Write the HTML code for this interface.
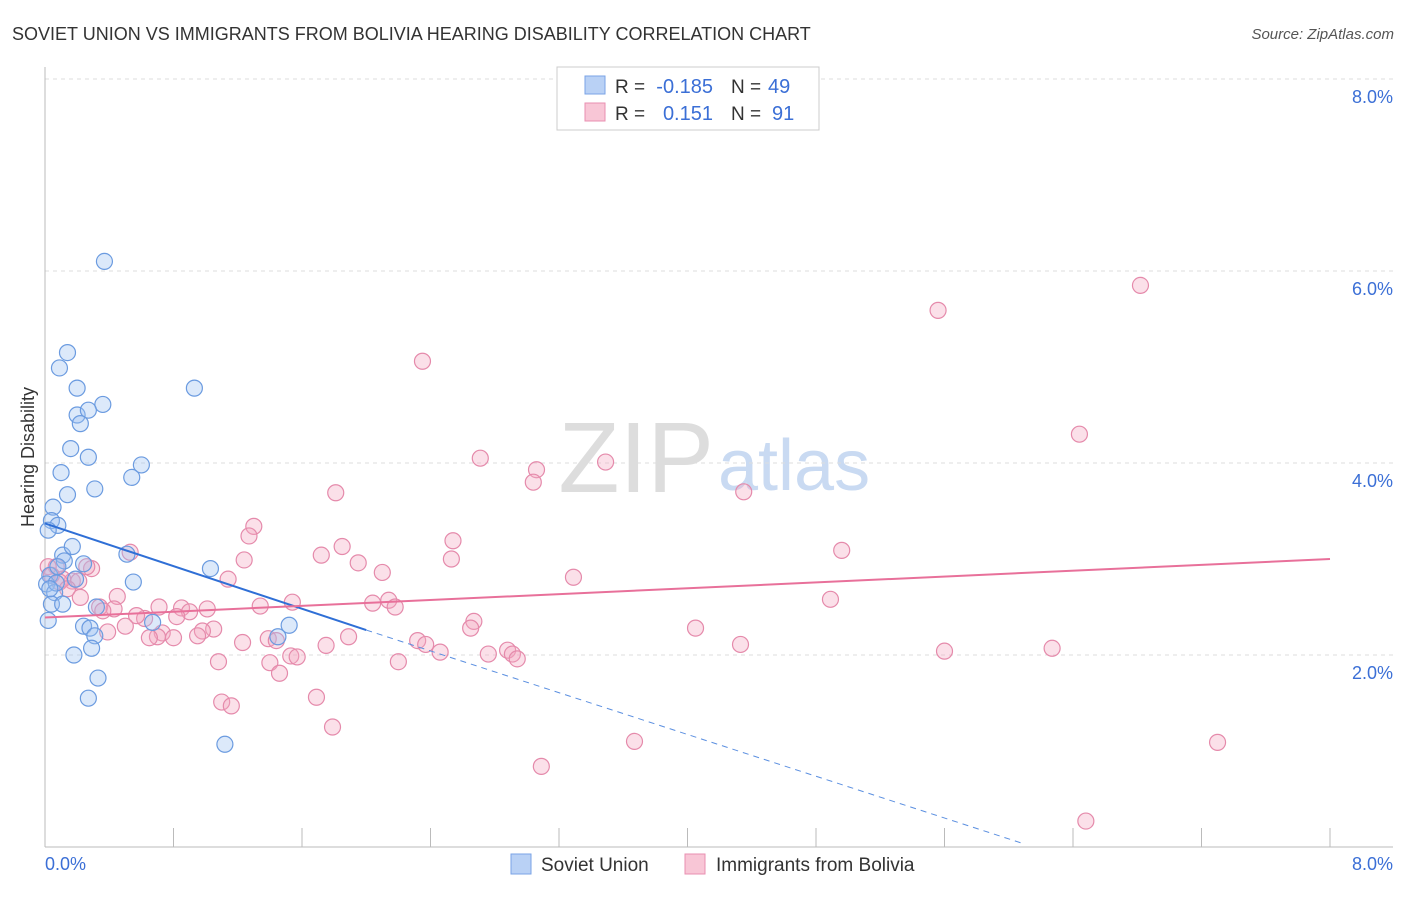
<!DOCTYPE html>
<html><head><meta charset="utf-8"><style>
body{margin:0;background:#fff;font-family:"Liberation Sans",sans-serif;}
svg text{font-family:"Liberation Sans",sans-serif;}
</style></head><body>
<svg id="chart" width="1406" height="892">
<text x="12" y="40" font-size="18" fill="#333">SOVIET UNION VS IMMIGRANTS FROM BOLIVIA HEARING DISABILITY CORRELATION CHART</text>
<text x="1394" y="39" font-size="15" fill="#555" font-style="italic" text-anchor="end">Source: ZipAtlas.com</text>
<text x="714" y="492" font-size="100" fill="#ddd" text-anchor="end" font-family="Liberation Serif">ZIP</text>
<text x="718" y="490" font-size="72" fill="#c9daf2">atlas</text>
<g id="grid"></g><g id="axes"></g><g id="marks"></g>
<text transform="translate(34,457) rotate(-90)" font-size="18" fill="#333" text-anchor="middle">Hearing Disability</text>
<text x="45" y="870" font-size="18" fill="#3b6fd6">0.0%</text>
<text x="1393" y="870" font-size="18" fill="#3b6fd6" text-anchor="end">8.0%</text>
<g>
<rect x="557" y="67" width="262" height="63" fill="#fff" stroke="#ccc"/>
<rect x="585" y="76" width="20" height="18" fill="#b9d1f5" stroke="#7aa3e6"/>
<rect x="585" y="103" width="20" height="18" fill="#f8c6d6" stroke="#e98fb0"/>
<text x="615" y="93" font-size="19" fill="#333">R =</text>
<text x="713" y="93" font-size="20" fill="#3b6fd6" text-anchor="end">-0.185</text>
<text x="731" y="93" font-size="19" fill="#333">N =</text>
<text x="768" y="93" font-size="20" fill="#3b6fd6">49</text>
<text x="615" y="120" font-size="19" fill="#333">R =</text>
<text x="713" y="120" font-size="20" fill="#3b6fd6" text-anchor="end">0.151</text>
<text x="731" y="120" font-size="19" fill="#333">N =</text>
<text x="772" y="120" font-size="20" fill="#3b6fd6">91</text>
</g>
<g>
<rect x="511" y="854" width="20" height="20" fill="#b9d1f5" stroke="#7aa3e6"/>
<text x="541" y="871" font-size="19" fill="#333">Soviet Union</text>
<rect x="685" y="854" width="20" height="20" fill="#f8c6d6" stroke="#e98fb0"/>
<text x="716" y="871" font-size="19" fill="#333">Immigrants from Bolivia</text>
</g>
</svg>
<script>
const yTicks=[2,4,6,8];
const xTickVals=[0,0.8,1.6,2.4,3.2,4.0,4.8,5.6,6.4,7.2,8.0];
const blueX=[0.37,0.14,0.09,0.2,0.93,0.36,0.2,0.27,0.22,0.16,0.27,0.6,0.1,0.54,0.31,0.14,0.05,0.04,0.08,0.02,0.11,0.17,0.51,0.12,0.24,1.03,0.03,0.19,0.55,0.01,0.06,0.04,0.11,0.32,0.67,1.52,0.24,0.28,0.31,1.45,0.29,0.18,0.33,0.27,1.12,0.02,0.07,0.08,0.03];
const blueY=[6.1,5.15,4.99,4.78,4.78,4.61,4.5,4.55,4.41,4.15,4.06,3.98,3.9,3.85,3.73,3.67,3.54,3.4,3.35,3.3,3.04,3.13,3.05,2.98,2.95,2.9,2.83,2.79,2.76,2.74,2.65,2.53,2.53,2.5,2.34,2.31,2.3,2.28,2.2,2.19,2.07,2.0,1.76,1.55,1.07,2.36,2.75,2.92,2.69];
const pinkX=[6.82,5.56,2.35,6.44,2.71,3.49,3.06,3.04,1.81,4.35,1.3,1.27,2.54,1.85,4.96,0.53,1.72,1.24,1.95,2.53,0.29,2.1,3.29,1.14,0.17,0.11,0.07,0.02,0.04,0.09,0.21,0.14,0.22,0.45,2.14,4.89,1.54,2.04,2.18,1.34,0.71,1.01,0.34,0.43,0.36,0.85,0.9,0.82,0.62,0.57,2.67,2.65,0.5,1.05,0.98,0.39,0.73,0.7,0.65,0.8,0.95,1.89,1.39,1.44,1.23,1.75,2.32,2.37,4.33,2.46,2.88,2.91,2.94,2.76,1.53,1.57,5.6,6.27,4.05,1.08,1.4,2.2,1.46,1.69,1.1,1.16,1.79,3.67,7.3,3.09,6.48,0.26];
const pinkY=[5.85,5.59,5.06,4.3,4.05,4.01,3.93,3.8,3.69,3.7,3.34,3.24,3.19,3.13,3.09,3.07,3.04,2.99,2.96,3.0,2.9,2.86,2.81,2.79,2.77,2.79,2.92,2.92,2.83,2.76,2.77,2.69,2.6,2.61,2.57,2.58,2.55,2.54,2.5,2.51,2.5,2.48,2.5,2.48,2.46,2.49,2.45,2.4,2.38,2.41,2.35,2.28,2.3,2.27,2.25,2.24,2.23,2.19,2.18,2.18,2.2,2.19,2.17,2.15,2.13,2.1,2.15,2.11,2.11,2.03,2.05,2.01,1.96,2.01,1.99,1.98,2.04,2.07,2.28,1.93,1.92,1.93,1.81,1.56,1.51,1.47,1.25,1.1,1.09,0.84,0.27,2.92];
const blueTrend=[[0,3.37],[2.0,2.26],[6.1,0.03]];
const pinkTrend=[[0,2.39],[8,3.0]];
</script>
<script>
const NS="http://www.w3.org/2000/svg";
const X0=45,X1=1330,Y0=847,PPU=96;
const sx=v=>X0+v/8*(X1-X0);
const sy=v=>Y0-v*PPU;
function mk(tag,attrs,parent){const e=document.createElementNS(NS,tag);for(const k in attrs)e.setAttribute(k,attrs[k]);parent.appendChild(e);return e;}
const grid=document.getElementById('grid'),axes=document.getElementById('axes'),marks=document.getElementById('marks');
yTicks.forEach(t=>{
 const l=mk('line',{x1:X0,x2:1393,y1:sy(t),y2:sy(t),stroke:'#ddd','stroke-dasharray':'4,4'},grid);
 
 
 const tx=mk('text',{x:1393,y:sy(t)+24,'font-size':18,fill:'#3b6fd6','text-anchor':'end'},grid);
 tx.textContent=t.toFixed(1)+'%';
 
 
});
const ax=mk('line',{x1:X0,x2:X0,y1:67,y2:Y0,stroke:'#bbb'},axes);


const bx=mk('line',{x1:X0,x2:1393,y1:Y0,y2:Y0,stroke:'#bbb'},axes);


xTickVals.forEach(v=>{
 const t=mk('line',{x1:sx(v),x2:sx(v),y1:828,y2:Y0,stroke:'#bbb'},axes);
 
 
});
function dots(xs,ys,fill,stroke,name){const n=Math.min(xs.length,ys.length);for(let i=0;i<n;i++){
 const c=mk('circle',{cx:sx(xs[i]),cy:sy(ys[i]),r:8,fill:fill,'fill-opacity':0.35,stroke:stroke,'stroke-width':1.2},marks);
 
 
}}
dots(pinkX,pinkY,'#f4a7c0','#e58aab','bolivia-point');
dots(blueX,blueY,'#9cc0f0','#6b9be0','soviet-point');
const bl=mk('line',{x1:sx(blueTrend[0][0]),y1:sy(blueTrend[0][1]),x2:sx(blueTrend[1][0]),y2:sy(blueTrend[1][1]),stroke:'#2f6fd6','stroke-width':2},marks);


const bd=mk('line',{x1:sx(blueTrend[1][0]),y1:sy(blueTrend[1][1]),x2:sx(blueTrend[2][0]),y2:sy(blueTrend[2][1]),stroke:'#5b8fe0','stroke-width':1,'stroke-dasharray':'6,5'},marks);


const pl=mk('line',{x1:sx(pinkTrend[0][0]),y1:sy(pinkTrend[0][1]),x2:sx(pinkTrend[1][0]),y2:sy(pinkTrend[1][1]),stroke:'#e8709a','stroke-width':2},marks);


</script>
</body></html>
